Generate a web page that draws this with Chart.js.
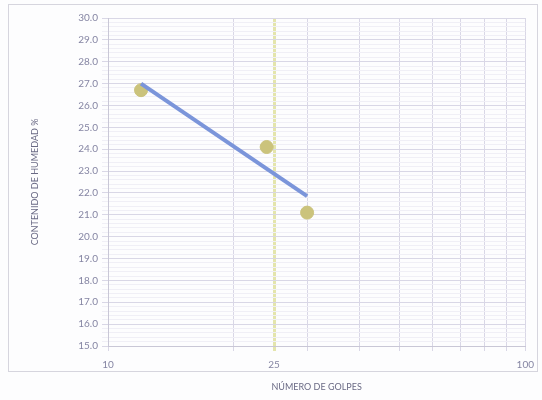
<!DOCTYPE html>
<html>
<head>
<meta charset="utf-8">
<script src="https://cdn.jsdelivr.net/npm/chart.js@4/dist/chart.umd.min.js"></script>
<style>
  html, body { margin: 0; padding: 0; background: #fbfbfd; }
  #wrap { width: 542px; height: 400px; }
</style>
</head>
<body>
<div id="wrap"><canvas id="myChart" width="542" height="400"></canvas></div>
<script>
// ensayo de limite liquido: golpes vs humedad
const golpes = [12, 24, 30];
const humedad = [26.7, 24.1, 21.1];
// extremos de la linea de tendencia (log)
const tendenciaX = [12, 30];
const tendenciaY = [27.0, 21.85];
// marcas del eje x
const xTicks = [10, 20, 25, 30, 40, 50, 60, 70, 80, 90, 100];
const xEtiquetas = [10, 25, 100];
const golpesRef = 25;
const yMin = 15, yMax = 30;

const puntos = golpes.map((g, i) => ({ x: g, y: humedad[i] }));
const tendencia = tendenciaX.map((g, i) => ({ x: g, y: tendenciaY[i] }));

// marco exterior del grafico
const marco = {
    id: 'marco',
    beforeDraw(chart) {
        const c = chart.ctx;
        c.save();
        c.fillStyle = '#fdfdfe';
        c.fillRect(0, 0, chart.width, chart.height);
        c.strokeStyle = '#d6d5de';
        c.lineWidth = 1;
        c.strokeRect(8.5, 4.5, 529, 367);
        c.restore();
    }
};

const ctx = document.getElementById('myChart');
new Chart(ctx, {
    data: {
        datasets: [{
            type: 'line',
            label: 'Tendencia',
            data: tendencia,
            borderColor: '#7b95da',
            borderWidth: 4,
            pointRadius: 0,
            order: 0
        }, {
            type: 'scatter',
            label: 'Humedad',
            data: puntos,
            backgroundColor: '#cbc37c',
            borderColor: '#cbc37c',
            pointRadius: 6.5,
            order: 1
        }]
    },
    options: {
        responsive: false,
        animation: false,
        layout: { padding: { left: 10, right: 16, top: 18, bottom: 8 } },
        plugins: {
            legend: { display: false },
            tooltip: { enabled: false }
        },
        scales: {
            x: {
                type: 'logarithmic',
                min: 10,
                max: 100,
                afterBuildTicks: (scale) => { scale.ticks = xTicks.map(v => ({ value: v })); },
                afterFit: (scale) => { scale.height = 46; },
                grid: {
                    color: (c) => c.tick && c.tick.value === golpesRef ? '#e4e5ad' : '#d9d7e6',
                    lineWidth: (c) => c.tick && c.tick.value === golpesRef ? 3 : 1,
                    tickLength: 5
                },
                border: { color: '#c9c7d6' },
                ticks: {
                    autoSkip: false,
                    maxRotation: 0,
                    color: '#8585a3',
                    font: { family: 'Lato', size: 10 },
                    padding: 8,
                    callback: (v) => xEtiquetas.includes(v) ? String(v) : ''
                },
                title: {
                    display: true,
                    text: 'NÚMERO DE GOLPES',
                    color: '#6a6a85',
                    font: { family: 'Lato', size: 9 },
                    padding: { top: 0, bottom: 0 }
                }
            },
            y: {
                min: yMin,
                max: yMax,
                afterFit: (scale) => { scale.width = 98; },
                grid: {
                    color: (c) => Number.isInteger(Math.round(c.tick.value * 10) / 10) ? '#d9d7e6' : '#f0eff6',
                    tickLength: 6
                },
                border: { color: '#c9c7d6' },
                ticks: {
                    stepSize: 0.2,
                    autoSkip: false,
                    color: '#8585a3',
                    font: { family: 'Lato', size: 10 },
                    padding: 4,
                    callback: (v) => {
                        const r = Math.round(v * 10) / 10;
                        return Number.isInteger(r) ? r.toFixed(1) : '';
                    }
                },
                title: {
                    display: true,
                    text: 'CONTENIDO DE HUMEDAD %',
                    color: '#6a6a85',
                    font: { family: 'Lato', size: 9 },
                    padding: { top: 20, bottom: 0 }
                }
            }
        }
    },
    plugins: [marco]
});
</script>
</body>
</html>
